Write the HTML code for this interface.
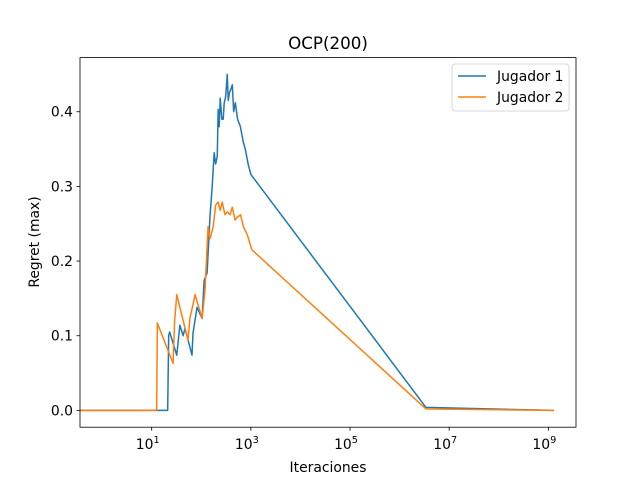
<!DOCTYPE html>
<html><head><meta charset="utf-8"><style>
body{margin:0;background:#fff;}
svg text{font-family:"DejaVu Sans","Liberation Sans",sans-serif;fill:#000;}
</style></head><body>
<svg id="chart" width="640" height="480" viewBox="0 0 640 480" xmlns="http://www.w3.org/2000/svg">
<rect width="640" height="480" fill="#fff"/>
<g id="plot"></g>
<rect x="80" y="57.6" width="496" height="369.6" fill="none" stroke="#000" stroke-width="0.8"/>
<text x="328" y="49" font-size="16.7" text-anchor="middle">OCP(200)</text>
<text x="328" y="472" font-size="13.9" text-anchor="middle">Iteraciones</text>
<text x="39" y="242" font-size="13.9" text-anchor="middle" transform="rotate(-90 39 242)">Regret (max)</text>
<g>
<rect x="452" y="64" width="117" height="47" rx="3" fill="#fff" stroke="#ccc" stroke-width="0.8"/>
<line x1="458" y1="76" x2="486" y2="76" stroke="#1f77b4" stroke-width="1.5"/>
<text x="497" y="81" font-size="13.9">Jugador 1</text>
<line x1="458" y1="97" x2="486" y2="97" stroke="#ff7f0e" stroke-width="1.5"/>
<text x="497" y="102" font-size="13.9">Jugador 2</text>
</g>
</svg>
<script>
const xTicks = [1, 3, 5, 7, 9];
const yTicks = [0.0, 0.1, 0.2, 0.3, 0.4];
const yTickLabels = ["0.0", "0.1", "0.2", "0.3", "0.4"];
const iter1 = [0.35, 21, 22, 23, 32, 37, 43, 47, 65, 68, 82, 104, 114, 131, 150, 166, 182, 195, 210, 219, 230, 241, 260, 277, 290, 310, 334, 350, 367, 395, 423, 450, 486, 540, 615, 700, 777, 880, 1000, 3400000, 1300000000];
const regret1 = [0, 0, 0.10, 0.105, 0.074, 0.114, 0.10, 0.11, 0.074, 0.103, 0.138, 0.123, 0.174, 0.184, 0.26, 0.30, 0.345, 0.33, 0.34, 0.403, 0.38, 0.418, 0.39, 0.39, 0.412, 0.42, 0.45, 0.415, 0.425, 0.43, 0.436, 0.40, 0.412, 0.39, 0.38, 0.36, 0.349, 0.33, 0.316, 0.004, 0.0];
const iter2 = [0.35, 12.6, 13, 27, 29, 32, 54, 59, 75, 104, 119, 137, 150, 174, 195, 219, 240, 265, 300, 334, 380, 423, 480, 535, 620, 708, 850, 1050, 3400000, 1300000000];
const regret2 = [0, 0, 0.117, 0.063, 0.12, 0.155, 0.094, 0.123, 0.155, 0.123, 0.161, 0.246, 0.23, 0.246, 0.275, 0.279, 0.268, 0.279, 0.262, 0.266, 0.262, 0.272, 0.255, 0.259, 0.262, 0.246, 0.235, 0.215, 0.002, 0.0];

const NS = "http://www.w3.org/2000/svg";
const plot = document.getElementById("plot");
const L = 80, R = 576, T = 57.6, B = 427.2;
const xMinLog = 1 - (151.7 - L) / 49.58, xMaxLog = 1 + (R - 151.7) / 49.58;
const yMin = -0.0225, yMax = 0.4725;
function xs(v) { return L + (Math.log10(v) - xMinLog) / (xMaxLog - xMinLog) * (R - L); }
function xsLog(e) { return L + (e - xMinLog) / (xMaxLog - xMinLog) * (R - L); }
function ys(v) { return B - (v - yMin) / (yMax - yMin) * (B - T); }

xTicks.forEach(e => {
  const x = xsLog(e);
  const t = document.createElementNS(NS, "line");
  t.setAttribute("x1", x); t.setAttribute("x2", x); t.setAttribute("y1", B); t.setAttribute("y2", B + 3.5);
  t.setAttribute("stroke", "#000"); t.setAttribute("stroke-width", "0.8");
  
  
  plot.appendChild(t);
  const tx = document.createElementNS(NS, "text");
  tx.setAttribute("x", x - 4); tx.setAttribute("y", B + 22); tx.setAttribute("font-size", "13.9"); tx.setAttribute("text-anchor", "middle");
  tx.textContent = "10";
  const sup = document.createElementNS(NS, "tspan");
  sup.setAttribute("dy", "-6"); sup.setAttribute("font-size", "9.7"); sup.textContent = e;
  tx.appendChild(sup);
  
  
  plot.appendChild(tx);
});
yTicks.forEach((v, i) => {
  const y = ys(v);
  const t = document.createElementNS(NS, "line");
  t.setAttribute("x1", L - 3.5); t.setAttribute("x2", L); t.setAttribute("y1", y); t.setAttribute("y2", y);
  t.setAttribute("stroke", "#000"); t.setAttribute("stroke-width", "0.8");
  
  
  plot.appendChild(t);
  const tx = document.createElementNS(NS, "text");
  tx.setAttribute("x", L - 7); tx.setAttribute("y", y + 5); tx.setAttribute("font-size", "13.9"); tx.setAttribute("text-anchor", "end");
  tx.textContent = yTickLabels[i];
  
  
  plot.appendChild(tx);
});
function drawLine(xv, yv, color, name) {
  const p = document.createElementNS(NS, "polyline");
  p.setAttribute("points", xv.map((x, i) => xs(x).toFixed(2) + "," + ys(yv[i]).toFixed(2)).join(" "));
  p.setAttribute("fill", "none"); p.setAttribute("stroke", color); p.setAttribute("stroke-width", "1.5");
  p.setAttribute("stroke-linejoin", "round");
  
  
  plot.appendChild(p);
}
drawLine(iter1, regret1, "#1f77b4", "series-jugador-1");
drawLine(iter2, regret2, "#ff7f0e", "series-jugador-2");
</script>
</body></html>
